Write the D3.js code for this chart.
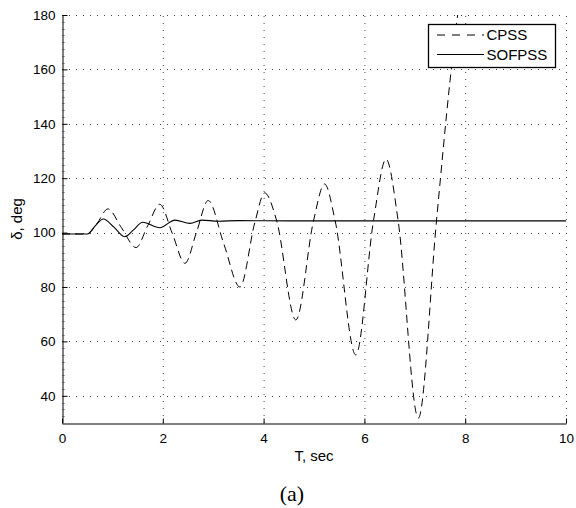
<!DOCTYPE html>
<html>
<head>
<meta charset="utf-8">
<script src="https://cdn.jsdelivr.net/npm/d3@7"></script>
<style>
  html, body { margin: 0; padding: 0; background: #fff; }
  svg { display: block; }
  text { font-family: "Liberation Sans", Arial, sans-serif; }
</style>
</head>
<body>
<svg id="chart" width="576" height="508"></svg>
<script>
// ---- data ----
const cpssT = [0, 0.5, 0.52, 0.7, 0.91, 1.18, 1.47, 1.70, 1.94, 2.19, 2.44, 2.67, 2.90, 3.21, 3.53, 3.83, 4.02, 4.26, 4.64, 4.99, 5.21, 5.42, 5.83, 6.18, 6.43, 6.67, 7.07, 7.43, 7.70, 7.85, 8.0];
const cpssV = [99.5, 99.5, 99.6, 103.5, 108.7, 101.8, 94.5, 102.5, 110.4, 99.6, 88.7, 100.2, 111.8, 95.9, 80.0, 104.0, 114.6, 104.3, 67.9, 104.3, 117.9, 104.3, 55.0, 104.3, 127.0, 104.3, 31.8, 104.3, 156.0, 180.0, 203.0];
const sofT = [0, 0.5, 0.52, 0.66, 0.82, 1.03, 1.24, 1.42, 1.60, 1.94, 2.24, 2.54, 2.77, 3.1, 3.5, 4.5, 6, 8, 10];
const sofV = [99.5, 99.5, 99.6, 102.5, 105.0, 102.0, 98.5, 101.0, 103.8, 101.8, 104.6, 103.4, 104.6, 104.2, 104.4, 104.3, 104.3, 104.3, 104.3];
const xTicks = [0, 2, 4, 6, 8, 10];
const yTicks = [40, 60, 80, 100, 120, 140, 160, 180];
const seriesNames = ["CPSS", "SOFPSS"];
const xLabel = "T, sec";
const yLabel = "δ, deg";
const caption = "(a)";

// ---- layout ----
const svg = d3.select("#chart");
const L = 62, R = 566, T = 15, B = 423;
const x = d3.scaleLinear().domain([0, 10]).range([L, R]);
const y = d3.scaleLinear().domain([30, 180]).range([B, T]);

svg.append("defs").append("clipPath").attr("id", "clip")
  .append("rect").attr("x", L).attr("y", T).attr("width", R - L).attr("height", B - T);

// grid
const grid = svg.append("g").attr("stroke", "#444").attr("stroke-width", 1)
  .attr("stroke-dasharray", "1,6").attr("fill", "none");
xTicks.filter(d => d > 0).forEach(d => {
  grid.append("line").attr("x1", x(d) + 0.5).attr("x2", x(d) + 0.5)
    .attr("y1", B).attr("y2", T);
});
yTicks.forEach(d => {
  grid.append("line").attr("x1", L).attr("x2", R)
    .attr("y1", Math.round(y(d)) + 0.5).attr("y2", Math.round(y(d)) + 0.5);
});

// axes
const xAxis = d3.axisBottom(x).tickValues(xTicks).tickSizeInner(-5).tickSizeOuter(0).tickPadding(10);
const gx = svg.append("g").attr("transform", `translate(0,${B + 0.5})`).call(xAxis);
gx.select(".domain").attr("stroke", "#000");
gx.selectAll(".tick line").attr("stroke", "#000");
gx.selectAll("text").attr("font-size", 13.5).attr("fill", "#000");

const yAxis = d3.axisLeft(y).tickValues(yTicks).tickSizeInner(-5).tickSizeOuter(0).tickPadding(7);
const gy = svg.append("g").attr("transform", `translate(${L + 0.5},0)`).call(yAxis);
gy.select(".domain").attr("stroke", "#000");
gy.selectAll(".tick line").attr("stroke", "#000");
gy.selectAll("text").attr("font-size", 13.5).attr("fill", "#000");

// minor ticks on left axis
const minor = d3.range(32.5, 180, 2.5).filter(v => !yTicks.includes(v));
svg.append("g").selectAll("line").data(minor).join("line")
  .attr("x1", L).attr("x2", L + 2.5)
  .attr("y1", d => Math.round(y(d)) + 0.5).attr("y2", d => Math.round(y(d)) + 0.5)
  .attr("stroke", "#555").attr("stroke-width", 1);

// lines
const lineGen = d3.line().x(d => x(d[0])).y(d => y(d[1])).curve(d3.curveMonotoneX);
const plot = svg.append("g").attr("clip-path", "url(#clip)");
plot.append("path").datum(sofT.map((t, i) => [t, sofV[i]]))
  .attr("d", lineGen).attr("fill", "none").attr("stroke", "#000").attr("stroke-width", 1.1);
plot.append("path").datum(cpssT.map((t, i) => [t, cpssV[i]]))
  .attr("d", lineGen).attr("fill", "none").attr("stroke", "#000").attr("stroke-width", 1)
  .attr("stroke-dasharray", "8,5");

// labels
svg.append("text").attr("x", 314).attr("y", 461).attr("text-anchor", "middle")
  .attr("font-size", 15).text(xLabel);
svg.append("text").attr("transform", "translate(22,219) rotate(-90)")
  .attr("text-anchor", "middle").attr("font-size", 15).text(yLabel);
svg.append("text").attr("x", 292).attr("y", 501).attr("text-anchor", "middle")
  .attr("font-size", 22).style("font-family", "'Liberation Serif', 'Times New Roman', serif").text(caption);

// legend
const lg = svg.append("g");
lg.append("rect").attr("x", 428.5).attr("y", 24.5).attr("width", 127).attr("height", 43)
  .attr("fill", "#fff").attr("stroke", "#000").attr("stroke-width", 1.3);
const legendRows = [
  { name: seriesNames[0], dash: "8,7", y: 35 },
  { name: seriesNames[1], dash: null, y: 54.5 }
];
legendRows.forEach(r => {
  lg.append("line").attr("x1", 437).attr("x2", 484).attr("y1", r.y).attr("y2", r.y)
    .attr("stroke", "#000").attr("stroke-width", 1)
    .attr("stroke-dasharray", r.dash);
  lg.append("text").attr("x", 486.5).attr("y", r.y + 5.4).attr("font-size", 15).text(r.name);
});
</script>
</body>
</html>
